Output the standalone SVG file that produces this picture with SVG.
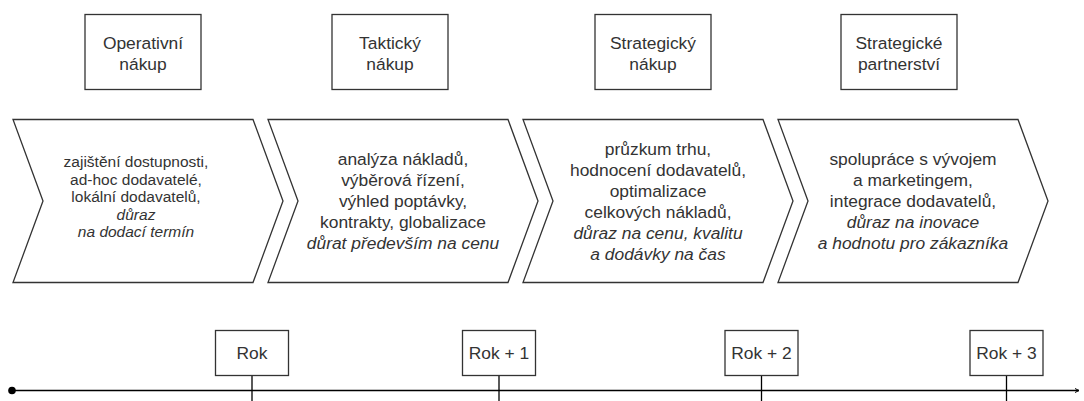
<svg xmlns="http://www.w3.org/2000/svg" width="1084" height="401" viewBox="0 0 1084 401">
<style>
.box{fill:#fff;stroke:#333;stroke-width:1.3}
.chev{fill:#fff;stroke:#333;stroke-width:1.3;stroke-linejoin:miter}
.t{font-family:"Liberation Sans",Arial,sans-serif;font-size:17.4px;fill:#333;text-anchor:middle}
.s{font-size:15.5px}
.i{font-style:italic}
.ln{stroke:#000;stroke-width:1.3;fill:none}
</style>
<defs>
<marker id="arr" viewBox="0 0 10 10" refX="9" refY="5" markerWidth="5" markerHeight="5" orient="auto" markerUnits="userSpaceOnUse">
<path d="M1,1 L9,5 L1,9" fill="none" stroke="#000" stroke-width="2"/>
</marker>
</defs>
<rect width="1084" height="401" fill="#fff"/>

<g id="phase1">
<rect class="box" x="85" y="14.5" width="116" height="75"/>
<text class="t" x="143" y="48.5">Operativní</text>
<text class="t" x="143" y="69.5">nákup</text>
</g>
<g id="phase2">
<rect class="box" x="332" y="14.5" width="116" height="75"/>
<text class="t" x="390" y="48.5">Taktický</text>
<text class="t" x="390" y="69.5">nákup</text>
</g>
<g id="phase3">
<rect class="box" x="595" y="14.5" width="116" height="75"/>
<text class="t" x="653" y="48.5">Strategický</text>
<text class="t" x="653" y="69.5">nákup</text>
</g>
<g id="phase4">
<rect class="box" x="841" y="14.5" width="116" height="75"/>
<text class="t" x="899" y="48.5">Strategické</text>
<text class="t" x="899" y="69.5">partnerství</text>
</g>

<g id="step1">
<polygon class="chev" points="13,119.5 253,119.5 283,201 253,282.5 13,282.5 43,201"/>
<text class="t s" x="136" y="167.4">zajištění dostupnosti,</text>
<text class="t s" x="136" y="184.9">ad-hoc dodavatelé,</text>
<text class="t s" x="136" y="202.4">lokální dodavatelů,</text>
<text class="t s i" x="136" y="219.9">důraz</text>
<text class="t s i" x="136" y="237.4">na dodací termín</text>
</g>
<g id="step2">
<polygon class="chev" points="268,119.5 508,119.5 538,201 508,282.5 268,282.5 298,201"/>
<text class="t" x="403" y="165">analýza nákladů,</text>
<text class="t" x="403" y="186">výběrová řízení,</text>
<text class="t" x="403" y="207">výhled poptávky,</text>
<text class="t" x="403" y="228">kontrakty, globalizace</text>
<text class="t i" x="403" y="249">důrat především na cenu</text>
</g>
<g id="step3">
<polygon class="chev" points="523,119.5 763,119.5 793,201 763,282.5 523,282.5 553,201"/>
<text class="t" x="658" y="154.5">průzkum trhu,</text>
<text class="t" x="658" y="175.5">hodnocení dodavatelů,</text>
<text class="t" x="658" y="196.5">optimalizace</text>
<text class="t" x="658" y="217.5">celkových nákladů,</text>
<text class="t i" x="658" y="238.5">důraz na cenu, kvalitu</text>
<text class="t i" x="658" y="259.5">a dodávky na čas</text>
</g>
<g id="step4">
<polygon class="chev" points="778,119.5 1018,119.5 1048,201 1018,282.5 778,282.5 808,201"/>
<text class="t" x="913" y="165">spolupráce s vývojem</text>
<text class="t" x="913" y="186">a marketingem,</text>
<text class="t" x="913" y="207">integrace dodavatelů,</text>
<text class="t i" x="913" y="228">důraz na inovace</text>
<text class="t i" x="913" y="249">a hodnotu pro zákazníka</text>
</g>

<g id="connectors">
<line class="ln" x1="12" y1="390.5" x2="1079" y2="390.5" marker-end="url(#arr)"/>
<circle cx="12" cy="390.5" r="3.8" fill="#000"/>
<line class="ln" x1="252" y1="375.5" x2="252" y2="401"/>
<line class="ln" x1="499" y1="375.5" x2="499" y2="401"/>
<line class="ln" x1="761.5" y1="375.5" x2="761.5" y2="401"/>
<line class="ln" x1="1006.5" y1="375.5" x2="1006.5" y2="401"/>
</g>

<g id="year0">
<rect class="box" x="215.5" y="330.5" width="73" height="45"/>
<text class="t" x="252" y="359">Rok</text>
</g>
<g id="year1">
<rect class="box" x="462.5" y="330.5" width="73" height="45"/>
<text class="t" x="499" y="359">Rok + 1</text>
</g>
<g id="year2">
<rect class="box" x="725" y="330.5" width="73" height="45"/>
<text class="t" x="761.5" y="359">Rok + 2</text>
</g>
<g id="year3">
<rect class="box" x="970" y="330.5" width="73" height="45"/>
<text class="t" x="1006.5" y="359">Rok + 3</text>
</g>
</svg>
